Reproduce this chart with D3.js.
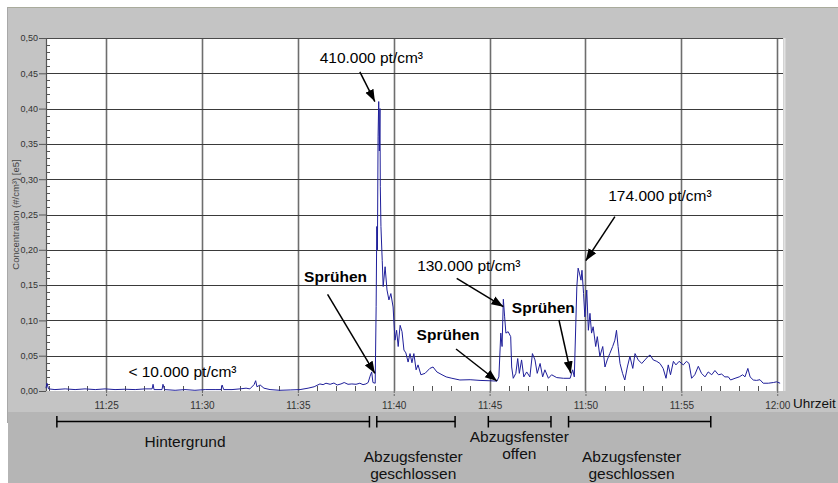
<!DOCTYPE html>
<html>
<head>
<meta charset="utf-8">
<script src="https://cdn.jsdelivr.net/npm/d3@7"></script>
<style>
  html, body { margin: 0; padding: 0; background: #fff; }
  svg { display: block; font-family: "Liberation Sans", Arial, sans-serif; }
</style>
</head>
<body>
<svg id="chart" width="838" height="483"></svg>
<script>
// Logged particle concentration; time as seconds after 11:00:00, value in 1e5 #/cm³
const tSec = [
  1312, 1315, 1320, 1340, 1372, 1403, 1434, 1466, 1497, 1528, 1559, 1591, 1622, 1644, 1647, 1650,
  1675, 1678, 1683, 1716, 1747, 1778, 1810, 1841, 1860, 1863, 1868, 1894, 1919, 1938, 1950, 1963,
  1968, 1972, 1982, 1994, 2013, 2044, 2076, 2107, 2132, 2151, 2169, 2179, 2188, 2201, 2213, 2223,
  2235, 2245, 2257, 2269, 2282, 2294, 2304, 2313, 2320, 2326, 2331, 2335, 2342, 2345, 2347, 2349,
  2351, 2353, 2355, 2357, 2358, 2360, 2364, 2367, 2373, 2379, 2385, 2391, 2398, 2404, 2409, 2414,
  2420, 2426, 2432, 2438, 2445, 2451, 2457, 2463, 2470, 2476, 2485, 2498, 2513, 2523, 2535, 2551,
  2564, 2582, 2607, 2639, 2670, 2701, 2723, 2729, 2735, 2739, 2743, 2747, 2751, 2758, 2766, 2769,
  2774, 2782, 2788, 2793, 2800, 2807, 2816, 2826, 2834, 2842, 2849, 2858, 2866, 2873, 2884, 2894,
  2910, 2931, 2952, 2960, 2965, 2970, 2973, 2977, 2981, 2986, 2989, 2994, 2998, 3004, 3009, 3014,
  3019, 3024, 3032, 3037, 3045, 3054, 3061, 3068, 3076, 3085, 3092, 3097, 3102, 3108, 3116, 3123,
  3131, 3139, 3148, 3155, 3165, 3176, 3186, 3196, 3202, 3212, 3223, 3233, 3243, 3252, 3259, 3266,
  3275, 3283, 3293, 3306, 3316, 3324, 3332, 3342, 3353, 3363, 3374, 3384, 3395, 3405, 3416, 3426,
  3436, 3447, 3454, 3468, 3481, 3492, 3499, 3508, 3515, 3525, 3535, 3546, 3556, 3572, 3588, 3598,
  3609
];
const conc = [
  0.004, 0.011, 0.003, 0.002, 0.003, 0.002, 0.003, 0.002, 0.003, 0.002, 0.0025, 0.002, 0.003, 0.003, 0.0095, 0.002,
  0.002, 0.0095, 0.002, 0.001, 0.002, 0.001, 0.002, 0.002, 0.002, 0.0085, 0.002, 0.002, 0.003, 0.004, 0.003, 0.009,
  0.0146, 0.006, 0.0085, 0.004, 0.002, 0.001, 0.0015, 0.002, 0.004, 0.006, 0.010, 0.009, 0.011, 0.0095, 0.0113, 0.0085,
  0.010, 0.012, 0.0095, 0.010, 0.0095, 0.011, 0.009, 0.010, 0.012, 0.021, 0.027, 0.012, 0.011, 0.12, 0.233, 0.20,
  0.36, 0.41, 0.34, 0.40, 0.29, 0.233, 0.185, 0.148, 0.176, 0.143, 0.129, 0.138, 0.119, 0.072, 0.086, 0.063,
  0.093, 0.084, 0.058, 0.054, 0.041, 0.053, 0.040, 0.053, 0.030, 0.037, 0.023, 0.025, 0.032, 0.034, 0.027, 0.023,
  0.020, 0.018, 0.0156, 0.016, 0.015, 0.0145, 0.014, 0.020, 0.082, 0.063, 0.130, 0.105, 0.082, 0.084, 0.077, 0.034,
  0.018, 0.025, 0.046, 0.025, 0.044, 0.020, 0.027, 0.020, 0.053, 0.044, 0.025, 0.039, 0.020, 0.030, 0.018, 0.023,
  0.019, 0.018, 0.018, 0.030, 0.020, 0.100, 0.148, 0.174, 0.167, 0.157, 0.171, 0.138, 0.105, 0.143, 0.086, 0.110,
  0.082, 0.091, 0.063, 0.077, 0.049, 0.063, 0.034, 0.044, 0.053, 0.063, 0.072, 0.086, 0.063, 0.039, 0.025, 0.0156,
  0.034, 0.049, 0.032, 0.053, 0.044, 0.039, 0.044, 0.049, 0.051, 0.044, 0.042, 0.039, 0.032, 0.018, 0.037, 0.023,
  0.042, 0.037, 0.042, 0.037, 0.042, 0.039, 0.018, 0.023, 0.035, 0.025, 0.020, 0.027, 0.023, 0.029, 0.023, 0.024,
  0.020, 0.020, 0.0156, 0.018, 0.020, 0.023, 0.020, 0.032, 0.020, 0.0156, 0.015, 0.016, 0.011, 0.011, 0.012, 0.013,
  0.011
];

// Axis ticks
const yTicks = [0, 0.05, 0.10, 0.15, 0.20, 0.25, 0.30, 0.35, 0.40, 0.45, 0.50];
const xTickLabels = ["11:25", "11:30", "11:35", "11:40", "11:45", "11:50", "11:55", "12:00"];

// Experiment phases (seconds after 11:00:00)
const phaseLines = [["Hintergrund"], ["Abzugsfenster", "geschlossen"], ["Abzugsfenster", "offen"], ["Abzugsfenster", "geschlossen"]];
const phaseStart = [1346, 2347, 2696, 2947];
const phaseEnd   = [2324, 2592, 2892, 3392];
const phaseLabelAt = [1747, 2461, 2793, 3144];

// Callouts: label anchor and arrow in data coordinates [seconds, value]
const callouts = [
  { text: "410.000 pt/cm³", bold: false, at: [2330, 0.4646], from: [2294, 0.452], to: [2341, 0.410] },
  { text: "Sprühen",        bold: true,  at: [2218, 0.1544], from: [2193, 0.137], to: [2341, 0.025] },
  { text: "130.000 pt/cm³", bold: false, at: [2635, 0.1704], from: [2597, 0.1596], to: [2743, 0.1194] },
  { text: "Sprühen",        bold: true,  at: [2570, 0.0722], from: [2595, 0.0595], to: [2723, 0.0142] },
  { text: "Sprühen",        bold: true,  at: [2868, 0.1109], from: [2917, 0.1006], to: [2954, 0.0251] },
  { text: "174.000 pt/cm³", bold: false, at: [3233, 0.2695], from: [3092, 0.2469], to: [3001, 0.1846] },
  { text: "< 10.000 pt/cm³", bold: false, at: [1739, 0.0203] }
];

const W = 838, H = 483;
const plot = { left: 46, right: 783, top: 38, bottom: 391 };
const day = new Date(2000, 0, 1, 11, 0, 0);
const toDate = s => new Date(day.getTime() + s * 1000);

const x = d3.scaleTime()
  .domain([toDate(1312), toDate(3618)])
  .range([plot.left, plot.right]);
const y = d3.scaleLinear().domain([0, 0.5]).range([plot.bottom, plot.top]);

const svg = d3.select("#chart");

// Frame panels
svg.append("rect").attr("x", 7.5).attr("y", 7).attr("width", W - 7.5).attr("height", 405).attr("fill", "#c4c4c4");
svg.append("rect").attr("x", 8).attr("y", 412).attr("width", W - 8).attr("height", H - 412).attr("fill", "#b5b5b5");
svg.append("line").attr("x1", 7.5).attr("x2", W).attr("y1", 7.5).attr("y2", 7.5).attr("stroke", "#a9ab9c").attr("stroke-width", 1);
svg.append("line").attr("x1", 7.5).attr("x2", 7.5).attr("y1", 7).attr("y2", 423).attr("stroke", "#a8a8a8").attr("stroke-width", 1);

// Plot area
svg.append("rect").attr("x", plot.left).attr("y", plot.top)
  .attr("width", plot.right - plot.left).attr("height", plot.bottom - plot.top).attr("fill", "#fff");
svg.append("line").attr("x1", plot.right + 1.5).attr("x2", plot.right + 1.5).attr("y1", plot.top).attr("y2", plot.bottom)
  .attr("stroke", "#e2e2e2").attr("stroke-width", 2);

const majorTimes = xTickLabels.map(l => { const [h, m] = l.split(":").map(Number); return new Date(2000, 0, 1, h, m, 0); });
const minorTimes = d3.timeMinute.range(x.domain()[0], x.domain()[1]).filter(d => d.getMinutes() % 5 !== 0);

// Grid
const grid = svg.append("g");
grid.selectAll(".vg").data(majorTimes).join("line")
  .attr("x1", d => Math.round(x(d)) + 0.5).attr("x2", d => Math.round(x(d)) + 0.5)
  .attr("y1", plot.top).attr("y2", plot.bottom)
  .attr("stroke", "#6e6e6e").attr("stroke-width", 1.6);
grid.selectAll(".hg").data(yTicks.filter(v => v > 0 && v < 0.5)).join("line")
  .attr("x1", plot.left).attr("x2", plot.right)
  .attr("y1", d => Math.round(y(d)) + 0.5).attr("y2", d => Math.round(y(d)) + 0.5)
  .attr("stroke", "#3a3a3a").attr("stroke-width", 1);

// Top border and left axis line
svg.append("line").attr("x1", plot.left).attr("x2", plot.right).attr("y1", plot.top + 0.5).attr("y2", plot.top + 0.5)
  .attr("stroke", "#4a4a4a").attr("stroke-width", 1.2);
svg.append("line").attr("x1", plot.left + 0.5).attr("x2", plot.left + 0.5).attr("y1", plot.top).attr("y2", plot.bottom)
  .attr("stroke", "#555").attr("stroke-width", 1.2);

// Y axis: major ticks outward, minor ticks inward
const yAxis = d3.axisLeft(y).tickValues(yTicks).tickSize(7).tickPadding(1)
  .tickFormat(d => d3.format(".2f")(d).replace(".", ","));
const gy = svg.append("g").attr("transform", `translate(${plot.left},0)`).call(yAxis);
gy.select(".domain").remove();
gy.selectAll(".tick line").attr("stroke", "#555");
gy.selectAll(".tick text").attr("font-size", 9).attr("fill", "#333").attr("font-family", "Liberation Sans, Arial, sans-serif");
const yMinor = d3.range(0, 51).map(i => i / 100).filter(v => Math.round(v * 100) % 5 !== 0);
svg.append("g").selectAll("line").data(yMinor).join("line")
  .attr("x1", plot.left).attr("x2", plot.left + 4)
  .attr("y1", d => Math.round(y(d)) + 0.5).attr("y2", d => Math.round(y(d)) + 0.5)
  .attr("stroke", "#555").attr("stroke-width", 1);

// X axis
const xAxis = d3.axisBottom(x).tickValues(majorTimes).tickSize(5).tickPadding(6)
  .tickFormat(d3.timeFormat("%H:%M"));
const gx = svg.append("g").attr("transform", `translate(0,${plot.bottom})`).call(xAxis);
gx.select(".domain").remove();
gx.selectAll(".tick line").attr("stroke", "#666").attr("stroke-dasharray", "2,1");
gx.selectAll(".tick text").attr("font-size", 10).attr("fill", "#333").attr("font-family", "Liberation Sans, Arial, sans-serif");
svg.append("g").selectAll("line").data(minorTimes).join("line")
  .attr("x1", d => Math.round(x(d)) + 0.5).attr("x2", d => Math.round(x(d)) + 0.5)
  .attr("y1", plot.bottom - 5).attr("y2", plot.bottom)
  .attr("stroke", "#555").attr("stroke-width", 1);

svg.append("text").attr("x", 793).attr("y", 407.5).attr("font-size", 13.5).attr("fill", "#111").text("Uhrzeit");

// Y axis title
svg.append("text")
  .attr("transform", "translate(19,214.5) rotate(-90)")
  .attr("text-anchor", "middle").attr("font-size", 9.5).attr("fill", "#444")
  .text("Concentration (#/cm³) [e5]");

// Concentration trace
const series = tSec.map((s, i) => [toDate(s), conc[i]]);
svg.append("path").datum(series)
  .attr("fill", "none").attr("stroke", "#1f1f9a").attr("stroke-width", 1).attr("stroke-linejoin", "round")
  .attr("d", d3.line().x(d => x(d[0])).y(d => y(d[1])));

// Callouts with arrows
const defs = svg.append("defs");
defs.append("marker").attr("id", "head").attr("viewBox", "0 -5 12 10")
  .attr("refX", 12).attr("refY", 0).attr("markerWidth", 12).attr("markerHeight", 10)
  .attr("markerUnits", "userSpaceOnUse").attr("orient", "auto")
  .append("path").attr("d", "M0,-4.5L12,0L0,4.5Z").attr("fill", "#000");

const px = p => [x(toDate(p[0])), y(p[1])];
callouts.forEach(c => {
  const [lx, ly] = px(c.at);
  svg.append("text").attr("x", lx).attr("y", ly).attr("text-anchor", "middle")
    .attr("font-size", 15.5).attr("font-weight", c.bold ? "bold" : "normal").attr("fill", "#000")
    .text(c.text);
  if (c.from) {
    const [x1, y1] = px(c.from), [x2, y2] = px(c.to);
    svg.append("line").attr("x1", x1).attr("y1", y1).attr("x2", x2).attr("y2", y2)
      .attr("stroke", "#000").attr("stroke-width", 1.5).attr("marker-end", "url(#head)");
  }
});

// Phase bars below the time axis
const barY = 421.5;
const phases = svg.append("g");
phaseStart.forEach((s, i) => {
  const x1 = x(toDate(s)), x2 = x(toDate(phaseEnd[i]));
  phases.append("line").attr("x1", x1).attr("x2", x2).attr("y1", barY).attr("y2", barY)
    .attr("stroke", "#000").attr("stroke-width", 1.5);
  [x1, x2].forEach(xx => phases.append("line").attr("x1", xx).attr("x2", xx)
    .attr("y1", barY - 5.5).attr("y2", barY + 6).attr("stroke", "#000").attr("stroke-width", 1.5));
  const lines = phaseLines[i];
  const firstBase = lines.length === 1 ? 447 : (lines[1] === "offen" ? 442 : 462);
  const t = phases.append("text").attr("text-anchor", "middle").attr("font-size", 15.5).attr("fill", "#111");
  lines.forEach((ln, j) => t.append("tspan").attr("x", x(toDate(phaseLabelAt[i])))
    .attr("y", firstBase + j * 17).text(ln));
});
</script>
</body>
</html>
